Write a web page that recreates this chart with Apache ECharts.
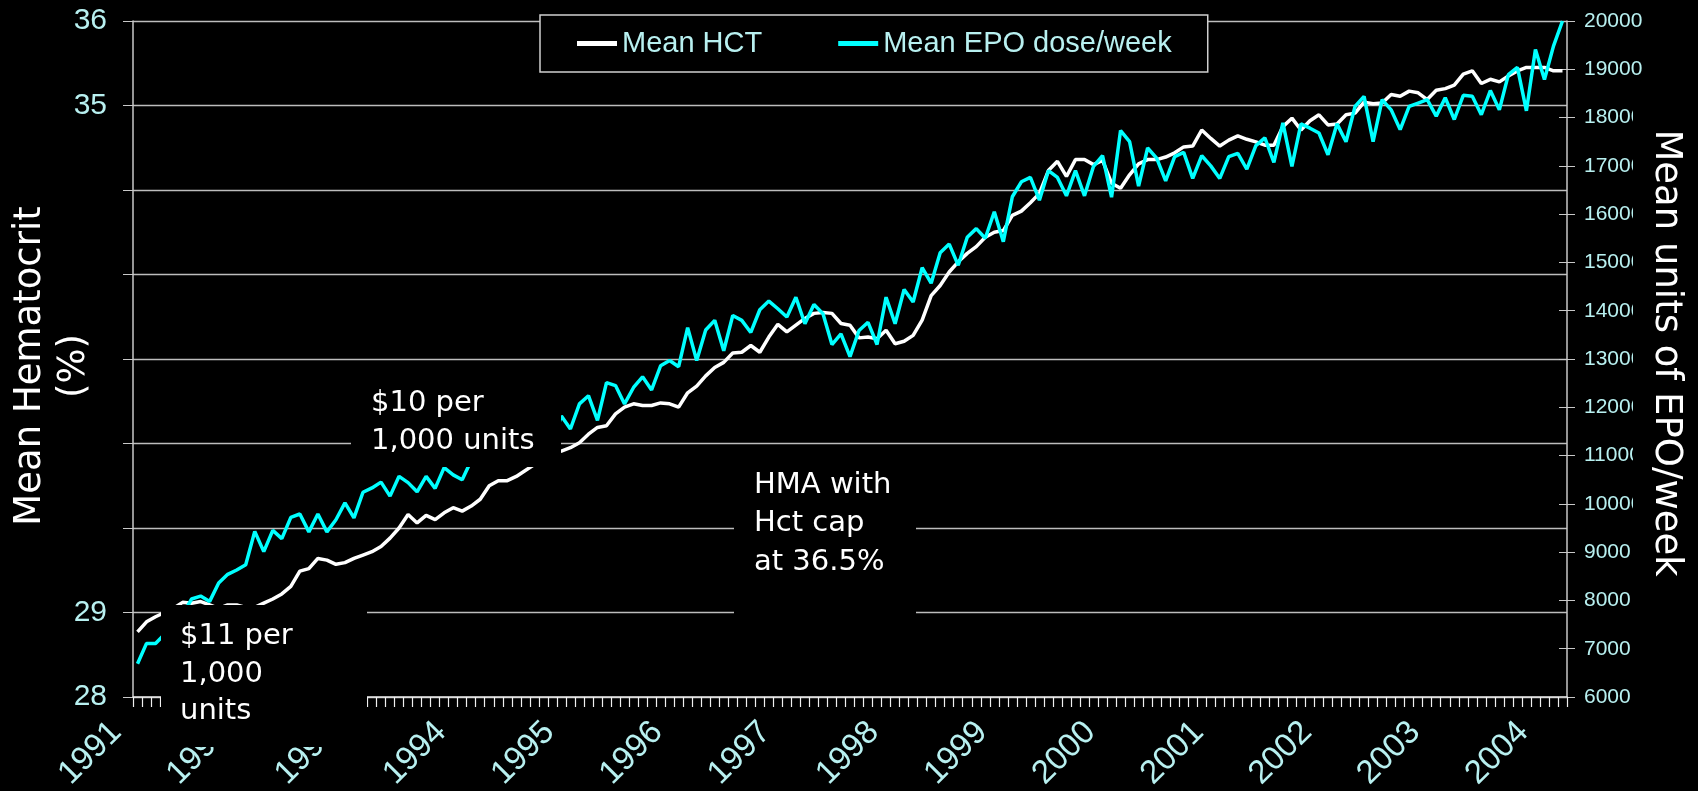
<!DOCTYPE html>
<html>
<head>
<meta charset="utf-8">
<script src="https://cdn.jsdelivr.net/npm/echarts@6/dist/echarts.min.js"></script>
<style>
  html, body { margin: 0; padding: 0; background: #000; }
  #chart { width: 1698px; height: 791px; }
</style>
</head>
<body>
<div id="chart"></div>
<script>
  // year labels, one per 12 monthly categories (Jan 1991 .. Mar 2004)
  const years = ['1991', '1992', '1993', '1994', '1995', '1996', '1997',
    '1998', '1999', '2000', '2001', '2002', '2003', '2004']

  // mean hematocrit (%), monthly
  const hct = [
    28.77, 28.89, 28.95, 29.0, 29.05, 29.12, 29.11, 29.13, 29.09, 29.05, 29.09, 29.09,
    29.06, 29.06, 29.11, 29.16, 29.22, 29.31, 29.49, 29.52, 29.64, 29.62, 29.57, 29.59,
    29.64, 29.68, 29.72, 29.78, 29.88, 30.0, 30.16, 30.06, 30.15, 30.10, 30.18, 30.24,
    30.20, 30.26, 30.34, 30.50, 30.56, 30.56, 30.61, 30.68, 30.75, 30.82, 30.88, 30.91,
    30.95, 31.01, 31.11, 31.19, 31.21, 31.35, 31.43, 31.47, 31.45, 31.45, 31.48, 31.47,
    31.43, 31.60, 31.68, 31.80, 31.90, 31.96, 32.07, 32.08, 32.16, 32.08, 32.26, 32.41,
    32.32, 32.40, 32.48, 32.54, 32.55, 32.54, 32.42, 32.40, 32.25, 32.26, 32.24, 32.34,
    32.18, 32.21, 32.28, 32.46, 32.75, 32.87, 33.03, 33.15, 33.25, 33.33, 33.44, 33.50,
    33.52, 33.70, 33.75, 33.85, 33.96, 34.23, 34.34, 34.16, 34.36, 34.36, 34.30, 34.35,
    34.08, 34.02, 34.18, 34.31, 34.36, 34.36, 34.39, 34.44, 34.51, 34.52, 34.71, 34.61,
    34.52, 34.59, 34.64, 34.60, 34.57, 34.53, 34.53, 34.75, 34.85, 34.71, 34.82, 34.89,
    34.77, 34.78, 34.89, 34.91, 35.04, 35.02, 35.03, 35.13, 35.11, 35.17, 35.15, 35.07,
    35.18, 35.20, 35.24, 35.37, 35.41, 35.26, 35.31, 35.28, 35.35, 35.41, 35.45, 35.45,
    35.45, 35.41, 35.41
  ]

  // mean EPO dose per week (units), monthly
  const epo = [
    6690, 7110, 7110, 7300, 7500, 7700, 8030, 8090, 7980, 8360, 8540, 8630,
    8740, 9430, 9010, 9450, 9280, 9720, 9790, 9420, 9790, 9420, 9670, 10020,
    9710, 10240, 10330, 10450, 10160, 10570, 10440, 10250, 10570, 10320, 10750, 10600,
    10500, 10900, 11000, 10800, 11200, 11100, 11400, 11250, 11600, 11500, 11300, 11820,
    11550, 12070, 12240, 11730, 12510, 12450, 12070, 12410, 12630, 12360, 12860, 12970,
    12840, 13650, 12970, 13600, 13800, 13170, 13900, 13800, 13550, 14020, 14200, 14040,
    13870, 14280, 13730, 14130, 13940, 13300, 13520, 13050, 13590, 13760, 13300, 14280,
    13730, 14440, 14180, 14890, 14570, 15200, 15380, 14940, 15520, 15700, 15500, 16050,
    15430, 16360, 16670, 16760, 16290, 16900, 16760, 16380, 16900, 16380, 16990, 17210,
    16350, 17730, 17500, 16580, 17370, 17160, 16690, 17190, 17280, 16740, 17210, 17000,
    16740, 17190, 17260, 16930, 17420, 17580, 17070, 17890, 16990, 17870, 17780, 17680,
    17230, 17870, 17500, 18230, 18440, 17500, 18370, 18160, 17750, 18230, 18300, 18370,
    18030, 18410, 17960, 18460, 18440, 18060, 18560, 18160, 18890, 19040, 18140, 19410,
    18790, 19480, 20000
  ]

  const months = []
  for (let i = 0; i < hct.length; i++) {
    months.push(years[Math.floor(i / 12)] + '-' + (i % 12 + 1))
  }

  const hctLabels = [28, 29, 35, 36]
  const labelColor = '#b8f0f0'
  const noteFont = '29px "DejaVu Sans"'

  const chart = echarts.init(document.getElementById('chart'))
  chart.setOption({
    backgroundColor: '#000',
    animation: false,
    grid: {
      left: 133,
      right: 131,
      top: 21,
      bottom: 94,
      outerBoundsMode: 'none'
    },
    legend: {
      left: 540,
      top: 15,
      padding: [14, 36, 14, 37],
      backgroundColor: '#000',
      borderColor: '#d0d0d0',
      borderWidth: 1.5,
      borderRadius: 0,
      itemGap: 76,
      itemWidth: 40,
      itemHeight: 5,
      icon: 'rect',
      textStyle: {
        color: labelColor,
        fontSize: 29,
        fontFamily: 'Liberation Sans'
      },
      data: ['Mean HCT', 'Mean EPO dose/week']
    },
    xAxis: {
      type: 'category',
      boundaryGap: true,
      data: months,
      axisLine: {
        lineStyle: { color: '#e8e8e8', width: 1.5 }
      },
      axisTick: {
        show: true,
        interval: 0,
        length: 10,
        lineStyle: { color: '#f0f0f0', width: 1.2 }
      },
      axisLabel: {
        interval: function (i) { return i % 12 === 0 },
        formatter: function (v) { return v.slice(0, 4) },
        rotate: 45,
        margin: 9,
        padding: [0, 30, 0, 0],
        color: labelColor,
        fontSize: 33,
        fontFamily: 'Liberation Sans'
      },
      splitLine: { show: false }
    },
    yAxis: [{
      type: 'value',
      min: 28,
      max: 36,
      interval: 1,
      position: 'left',
      axisLine: {
        show: true,
        lineStyle: { color: '#c8c8c8', width: 1.5 }
      },
      axisTick: {
        show: true,
        length: 10,
        lineStyle: { color: '#c8c8c8' }
      },
      axisLabel: {
        margin: 26,
        color: labelColor,
        fontSize: 30,
        fontFamily: 'Liberation Sans',
        formatter: function (v) { return hctLabels.indexOf(v) >= 0 ? String(v) : '' }
      },
      splitLine: {
        lineStyle: { color: '#bdbdbd', width: 1.3 }
      }
    }, {
      type: 'value',
      min: 6000,
      max: 20000,
      interval: 1000,
      position: 'right',
      axisLine: {
        show: true,
        lineStyle: { color: '#c8c8c8', width: 1.5 }
      },
      axisTick: {
        show: true,
        length: 8,
        lineStyle: { color: '#c8c8c8' }
      },
      axisLabel: {
        margin: 17,
        color: labelColor,
        fontSize: 21,
        fontFamily: 'Liberation Sans',
        formatter: function (v) { return String(v) }
      },
      splitLine: { show: false }
    }, {
      // inner half of the crossing ticks on the right axis
      type: 'value',
      min: 6000,
      max: 20000,
      interval: 1000,
      position: 'right',
      axisLine: { show: false },
      axisTick: {
        show: true,
        inside: true,
        length: 8,
        lineStyle: { color: '#c8c8c8' }
      },
      axisLabel: { show: false },
      splitLine: { show: false }
    }],
    series: [{
      name: 'Mean HCT',
      type: 'line',
      yAxisIndex: 0,
      symbol: 'none',
      color: '#ffffff',
      lineStyle: { color: '#ffffff', width: 3.5 },
      data: hct
    }, {
      name: 'Mean EPO dose/week',
      type: 'line',
      yAxisIndex: 1,
      symbol: 'none',
      color: '#00ffff',
      lineStyle: { color: '#00ffff', width: 3.5 },
      data: epo
    }],
    graphic: [
      // black note boxes lying over the plot
      { type: 'rect', z: 100, shape: { x: 351, y: 372, width: 210, height: 95 }, style: { fill: '#000' } },
      { type: 'text', z: 101, x: 371, y: 384, style: { text: '$10 per\n1,000 units', fill: '#fff', font: noteFont, lineHeight: 38, verticalAlign: 'top' } },
      { type: 'rect', z: 100, shape: { x: 734, y: 456, width: 182, height: 184 }, style: { fill: '#000' } },
      { type: 'text', z: 101, x: 754, y: 466, style: { text: 'HMA with\nHct cap\nat 36.5%', fill: '#fff', font: noteFont, lineHeight: 38.5, verticalAlign: 'top' } },
      { type: 'rect', z: 100, shape: { x: 161, y: 605, width: 206, height: 142 }, style: { fill: '#000' } },
      { type: 'text', z: 101, x: 180, y: 618, style: { text: '$11 per\n1,000\nunits', fill: '#fff', font: noteFont, lineHeight: 37.5, verticalAlign: 'top' } },
      // axis titles
      { type: 'text', z: 101, x: 52, y: 366, rotation: Math.PI / 2, style: { text: 'Mean Hematocrit\n(%)', fill: '#fff', font: '37px "DejaVu Sans"', lineHeight: 44, align: 'center', verticalAlign: 'middle' } },
      { type: 'rect', z: 100, shape: { x: 1633, y: 105, width: 65, height: 495 }, style: { fill: '#000' } },
      { type: 'text', z: 101, x: 1666, y: 353, rotation: -Math.PI / 2, style: { text: 'Mean units of EPO/week', fill: '#fff', font: '37px "DejaVu Sans"', align: 'center', verticalAlign: 'middle' } }
    ]
  })
</script>
</body>
</html>
